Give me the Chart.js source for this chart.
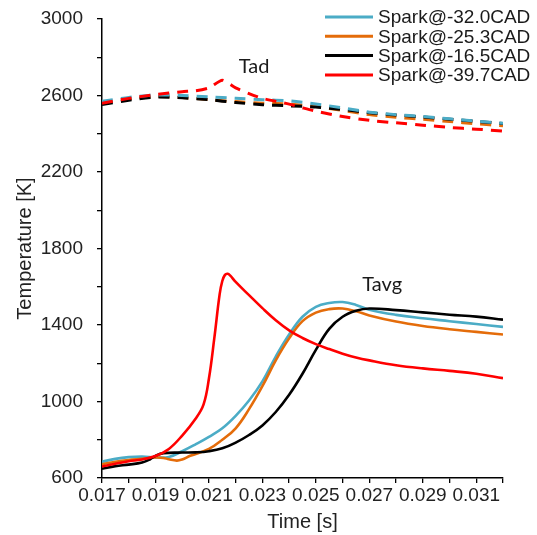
<!DOCTYPE html>
<html>
<head>
<meta charset="utf-8">
<script src="https://cdn.jsdelivr.net/npm/chart.js@4.4.0/dist/chart.umd.min.js"></script>
<style>
  html, body { margin: 0; padding: 0; background: #fff; }
  #wrap { width: 537px; height: 535px; }
</style>
</head>
<body>
<div id="wrap"><canvas id="myChart" width="537" height="535"></canvas></div>
<script>
// legend names, one per spark timing
const sparkNames = ["Spark@-32.0CAD", "Spark@-25.3CAD", "Spark@-16.5CAD", "Spark@-39.7CAD"];

// axis ticks (marks every step, labels only on some)
const xTicks = [0.017, 0.018, 0.019, 0.020, 0.021, 0.022, 0.023, 0.024, 0.025, 0.026, 0.027, 0.028, 0.029, 0.030, 0.031, 0.032];
const xLabelled = [0.017, 0.019, 0.021, 0.023, 0.025, 0.027, 0.029, 0.031];
const yTicks = [600, 800, 1000, 1200, 1400, 1600, 1800, 2000, 2200, 2400, 2600, 2800, 3000];
const yLabelled = [600, 1000, 1400, 1800, 2200, 2600, 3000];

// ---- Tavg (solid lines) ----
const tavgTime32 = [0.0170, 0.0175, 0.0180, 0.0185, 0.0190, 0.0195, 0.0200, 0.0205, 0.0210, 0.0215, 0.0220, 0.0225, 0.0230, 0.0235, 0.0240, 0.0245, 0.0250, 0.0255, 0.0260, 0.0265, 0.0270, 0.0280, 0.0290, 0.0300, 0.0310, 0.0320];
const tavg32 = [685, 700, 709, 712, 708, 710, 740, 776, 815, 860, 925, 1005, 1105, 1235, 1350, 1443, 1495, 1515, 1520, 1505, 1480, 1453, 1435, 1420, 1405, 1390];

const tavgTime25 = [0.0170, 0.0175, 0.0180, 0.0185, 0.0190, 0.0193, 0.0195, 0.0198, 0.0200, 0.0203, 0.0210, 0.0215, 0.0220, 0.0225, 0.0230, 0.0235, 0.0240, 0.0245, 0.0250, 0.0255, 0.0260, 0.0265, 0.0270, 0.0280, 0.0290, 0.0300, 0.0310, 0.0320];
const tavg25 = [672, 685, 694, 700, 707, 705, 698, 691, 697, 716, 752, 800, 860, 960, 1080, 1215, 1330, 1420, 1465, 1483, 1486, 1472, 1450, 1418, 1395, 1378, 1364, 1350];

const tavgTime16 = [0.0170, 0.0175, 0.0180, 0.0185, 0.0188, 0.0190, 0.0193, 0.0200, 0.0205, 0.0210, 0.0215, 0.0220, 0.0225, 0.0230, 0.0235, 0.0240, 0.0245, 0.0250, 0.0255, 0.0260, 0.0265, 0.0270, 0.0280, 0.0290, 0.0300, 0.0310, 0.0320];
const tavg16 = [648, 662, 670, 681, 698, 716, 730, 733, 734, 740, 755, 785, 825, 875, 945, 1035, 1145, 1270, 1380, 1443, 1474, 1486, 1478, 1466, 1454, 1444, 1428];

const tavgTime39 = [0.0170, 0.0175, 0.0180, 0.0185, 0.0190, 0.0195, 0.0200, 0.0205, 0.0208, 0.0210, 0.0212, 0.0214, 0.0215, 0.0216, 0.0217, 0.0218, 0.0220, 0.0225, 0.0230, 0.0235, 0.0240, 0.0245, 0.0250, 0.0255, 0.0260, 0.0265, 0.0270, 0.0280, 0.0290, 0.0300, 0.0310, 0.0320];
const tavg39 = [660, 675, 688, 697, 715, 752, 822, 910, 985, 1120, 1330, 1560, 1630, 1662, 1668, 1658, 1625, 1556, 1488, 1425, 1372, 1332, 1300, 1274, 1250, 1230, 1215, 1190, 1173, 1160, 1145, 1122];

// ---- Tad (dashed lines) ----
const tadTime = [0.017, 0.018, 0.019, 0.020, 0.021, 0.022, 0.023, 0.024, 0.025, 0.026, 0.027, 0.028, 0.029, 0.030, 0.031, 0.032];
const tad32 = [2570, 2590, 2603, 2600, 2593, 2585, 2578, 2572, 2556, 2535, 2513, 2500, 2490, 2478, 2466, 2455];
const tad25 = [2560, 2582, 2595, 2590, 2578, 2568, 2560, 2555, 2542, 2522, 2500, 2486, 2476, 2464, 2452, 2442];
const tad16 = [2553, 2575, 2592, 2588, 2578, 2563, 2552, 2546, 2540, 2527, 2510, 2498, 2488, 2476, 2465, 2453];

const tadTime39 = [0.0170, 0.0180, 0.0190, 0.0200, 0.0205, 0.0210, 0.0215, 0.0220, 0.0225, 0.0230, 0.0240, 0.0245, 0.0250, 0.0260, 0.0270, 0.0280, 0.0290, 0.0300, 0.0310, 0.0320];
const tad39 = [2560, 2585, 2605, 2620, 2625, 2640, 2680, 2640, 2610, 2585, 2555, 2536, 2518, 2490, 2470, 2457, 2445, 2433, 2424, 2414];

function pts(t, v) {
  return t.map((x, i) => ({ x: x, y: v[i] }));
}

const CYAN = "#4BACC6", ORANGE = "#E46C0A", BLACK = "#000000", RED = "#FF0000";

function solid(label, color, data, order) {
  return { label: label, data: data, borderColor: color, backgroundColor: color, borderWidth: 2.6,
    pointRadius: 0, tension: 0.4, fill: false, order: order, legend: true };
}
function dashed(color, data, order) {
  return { label: "Tad", data: data, borderColor: color, backgroundColor: color, borderWidth: 3,
    borderDash: [11, 8], pointRadius: 0, tension: 0.2, fill: false, order: order, legend: false };
}

// draws the legend in the top right and the Tad / Tavg notes
const notesPlugin = {
  id: "notes",
  afterDraw(chart) {
    const c = chart.ctx;
    const xs = chart.scales.x, ys = chart.scales.y;
    c.save();
    c.fillStyle = "#1a1a1a";
    c.font = "20px Lato";
    c.textAlign = "center";
    c.textBaseline = "middle";
    c.fillText("Tad", xs.getPixelForValue(0.02269), ys.getPixelForValue(2754));
    c.fillText("Tavg", xs.getPixelForValue(0.02748), ys.getPixelForValue(1613));

    c.font = "19px 'Liberation Sans'";
    c.textAlign = "left";
    const items = chart.data.datasets.filter(d => d.legend);
    items.forEach((d, i) => {
      const y = 17 + i * 19.3;
      c.strokeStyle = d.borderColor;
      c.lineWidth = 3;
      c.beginPath();
      c.moveTo(325, y);
      c.lineTo(373, y);
      c.stroke();
      c.fillText(d.label, 378, y + 1);
    });
    c.restore();
  }
};

const axisFont = { family: "'Liberation Sans', Arial, sans-serif", size: 19 };

new Chart(document.getElementById("myChart").getContext("2d"), {
  type: "line",
  data: {
    datasets: [
      solid(sparkNames[0], CYAN, pts(tavgTime32, tavg32), 3),
      solid(sparkNames[1], ORANGE, pts(tavgTime25, tavg25), 2),
      solid(sparkNames[2], BLACK, pts(tavgTime16, tavg16), 1),
      solid(sparkNames[3], RED, pts(tavgTime39, tavg39), 0),
      dashed(CYAN, pts(tadTime, tad32), 5),
      dashed(ORANGE, pts(tadTime, tad25), 7),
      dashed(BLACK, pts(tadTime, tad16), 6),
      dashed(RED, pts(tadTime39, tad39), 4),
    ],
  },
  options: {
    responsive: false,
    animation: false,
    layout: { padding: { top: 19, right: 34, left: 0, bottom: 0 } },
    plugins: {
      legend: { display: false },
      tooltip: { enabled: false },
    },
    scales: {
      x: {
        type: "linear",
        min: 0.017,
        max: 0.032,
        afterBuildTicks: (s) => { s.ticks = xTicks.map(v => ({ value: v })); },
        afterFit: (s) => { s.height = 57; },
        ticks: {
          autoSkip: false,
          maxRotation: 0,
          minRotation: 0,
          padding: 1,
          color: "#222",
          font: axisFont,
          callback: (v) => xLabelled.some(l => Math.abs(l - v) < 1e-7) ? v.toFixed(3) : "",
        },
        grid: { display: true, drawOnChartArea: false, drawTicks: true, tickLength: 5, color: "#000", lineWidth: 1.3 },
        border: { display: true, color: "#000", width: 1.5 },
        title: { display: true, text: "Time [s]", color: "#222", font: { family: axisFont.family, size: 20 }, padding: { top: 0, bottom: 1 } },
      },
      y: {
        min: 600,
        max: 3000,
        afterBuildTicks: (s) => { s.ticks = yTicks.map(v => ({ value: v })); },
        afterFit: (s) => { s.width = 102; s.paddingTop = 0; s.paddingBottom = 0; },
        ticks: {
          padding: 14,
          color: "#222",
          font: axisFont,
          callback: (v) => yLabelled.includes(v) ? String(v) : "",
        },
        grid: { display: true, drawOnChartArea: false, drawTicks: true, tickLength: 5, color: "#000", lineWidth: 1.3 },
        border: { display: true, color: "#000", width: 1.5 },
        title: { display: true, text: "Temperature [K]", color: "#222", font: { family: axisFont.family, size: 20 }, padding: { top: 13, bottom: 0 } },
      },
    },
  },
  plugins: [notesPlugin],
});
</script>
</body>
</html>
